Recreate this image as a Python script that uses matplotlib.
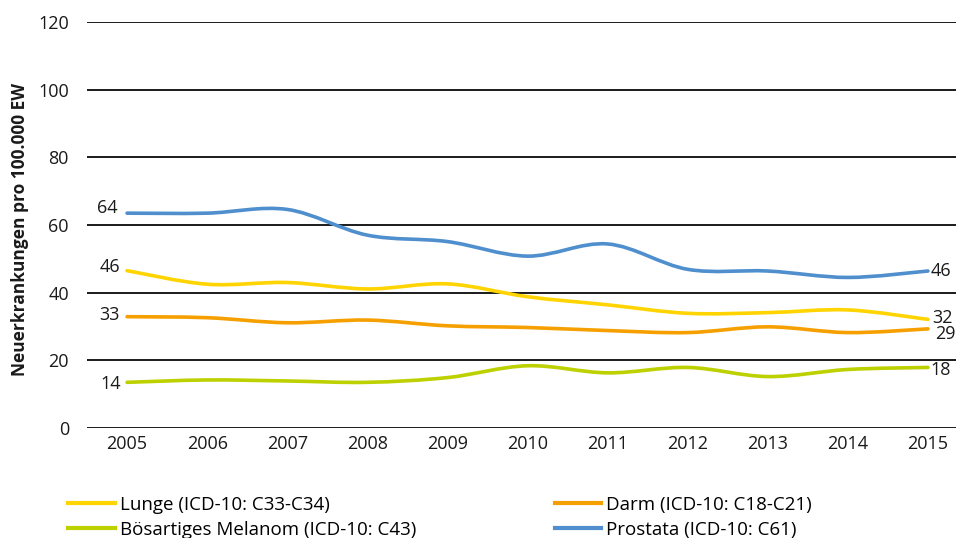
import numpy as np
import matplotlib
matplotlib.use("Agg")
import matplotlib.pyplot as plt
from matplotlib.path import Path
from matplotlib.patches import PathPatch
from matplotlib.lines import Line2D

plt.rcParams['font.family'] = ['Open Sans', 'DejaVu Sans']

years = [2005, 2006, 2007, 2008, 2009, 2010, 2011, 2012, 2013, 2014, 2015]
lunge = [46.5, 42.5, 43.0, 41.1, 42.6, 38.8, 36.4, 33.9, 34.1, 34.9, 32.1]
darm = [32.9, 32.6, 31.1, 31.9, 30.2, 29.7, 28.8, 28.2, 29.9, 28.2, 29.3]
melanom = [13.5, 14.2, 13.9, 13.5, 14.9, 18.4, 16.3, 17.9, 15.2, 17.3, 17.9]
prostata = [63.5, 63.5, 64.6, 57.0, 55.1, 50.8, 54.4, 46.9, 46.4, 44.5, 46.4]

labels = ["Lunge (ICD-10: C33-C34)", "Darm (ICD-10: C18-C21)",
          "Bösartiges Melanom (ICD-10: C43)", "Prostata (ICD-10: C61)"]
colors = ["#FFD400", "#F5A000", "#BDD000", "#4F8FCD"]
series = [lunge, darm, melanom, prostata]
# first / last point labels (text shown in the chart)
first_lbl = ["46", "33", "14", "64"]
last_lbl = ["32", "29", "18", "46"]
first_off = [(-5, 3), (-5, 1), (-4, -1), (-7, 4)]
last_off = [(3, 1), (5, -4), (2, -2), (2, 0)]


def smooth_path(x, y):
    # excel-like smoothed line as cubic bezier segments
    x = np.asarray(x, float); y = np.asarray(y, float)
    verts = [(x[0], y[0])]; codes = [Path.MOVETO]
    n = len(x)
    for i in range(n - 1):
        x0, y0 = (x[i - 1], y[i - 1]) if i > 0 else (x[i], y[i])
        x3, y3 = (x[i + 2], y[i + 2]) if i + 2 < n else (x[i + 1], y[i + 1])
        c1 = (x[i] + (x[i + 1] - x0) / 6., y[i] + (y[i + 1] - y0) / 6.)
        c2 = (x[i + 1] - (x3 - x[i]) / 6., y[i + 1] - (y3 - y[i]) / 6.)
        verts += [c1, c2, (x[i + 1], y[i + 1])]
        codes += [Path.CURVE4] * 3
    return Path(verts, codes)


fig = plt.figure(figsize=(9.56, 5.38), dpi=100)
ax = fig.add_axes([87 / 956, 110 / 538, (968 - 87) / 956, 406 / 538])
xpos = np.arange(len(years))

for vals, c in zip(series, colors):
    ax.add_patch(PathPatch(smooth_path(xpos, vals), fill=False, edgecolor=c,
                           lw=2.6, capstyle='round', zorder=3))

for i, vals in enumerate(series):
    ax.annotate(first_lbl[i], (xpos[0], vals[0]), xytext=first_off[i],
                textcoords='offset points', ha='right', va='center', fontsize=13, color='#1a1a1a')
    ax.annotate(last_lbl[i], (xpos[-1], vals[-1]), xytext=last_off[i],
                textcoords='offset points', ha='left', va='center', fontsize=13, color='#1a1a1a')

ax.set_xlim(-0.5, 10.5)
ax.set_ylim(0, 120)
ax.set_yticks(range(0, 121, 20))
ax.set_xticks(xpos)
ax.set_xticklabels([str(y) for y in years])
ax.yaxis.grid(True, color='#1a1a1a', lw=1.4)
ax.set_axisbelow(True)
for s in ax.spines.values():
    s.set_visible(False)
ax.tick_params(length=0, labelsize=13, colors='#1a1a1a')
ax.tick_params(axis='y', pad=13)
ax.tick_params(axis='x', pad=5)
ax.set_ylabel("Neuerkrankungen pro 100.000 EW", fontsize=12.5, fontweight='bold',
              color='#1a1a1a')
ax.yaxis.set_label_coords(-58 / 881, 0.49)

order = [0, 2, 1, 3]  # legend fills column-wise
handles = [Line2D([], [], color=colors[i], lw=3) for i in order]
fig.legend(handles, [labels[i] for i in order], ncol=2, loc='upper left',
           bbox_to_anchor=(68 / 956, 1 - 496 / 538),
           frameon=False, fontsize=13.5, handlelength=2.5, handletextpad=0.27,
           columnspacing=7.37, labelspacing=0.37, borderaxespad=0, borderpad=0)

plt.savefig("out.png", dpi=100)
